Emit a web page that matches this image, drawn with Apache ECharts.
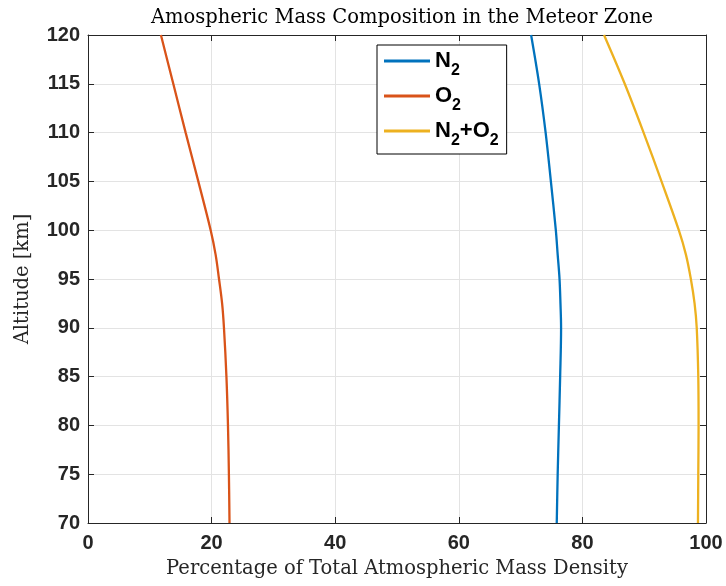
<!DOCTYPE html>
<html>
<head>
<meta charset="utf-8">
<script src="https://cdn.jsdelivr.net/npm/echarts@6/dist/echarts.min.js"></script>
<style>
  html, body { margin: 0; padding: 0; background: #fff; }
  #chart { width: 726px; height: 586px; }
</style>
</head>
<body>
<div id="chart"></div>
<script>
// Altitude samples [km] and mass-density percentages per species
const altitude = [70, 75, 80, 85, 90, 92.5, 95, 97.5, 100, 105, 110, 115, 120];
const n2Percent = [75.85, 76.0, 76.2, 76.4, 76.55, 76.45, 76.3, 76.0, 75.7, 74.9, 74.05, 73.0, 71.7];
const o2Percent = [22.9, 22.8, 22.65, 22.4, 22.0, 21.7, 21.2, 20.65, 19.85, 17.85, 15.8, 13.8, 11.8];
const n2o2Percent = [98.7, 98.75, 98.8, 98.75, 98.5, 98.15, 97.55, 96.75, 95.6, 92.8, 89.9, 86.85, 83.5];

const seriesNames = ['N2', 'O2', 'N2+O2'];
const xTicks = [0, 20, 40, 60, 80, 100];
const yTicks = [70, 75, 80, 85, 90, 95, 100, 105, 110, 115, 120];

const pairs = (vals) => vals.map((v, i) => [v, altitude[i]]);

const axisColor = '#262626';
const tickFont = { fontFamily: 'Liberation Sans', fontWeight: 'bold', fontSize: 20, color: axisColor };
const serifFont = 'DejaVu Serif';

const chart = echarts.init(document.getElementById('chart'), null, { renderer: 'canvas' });

function baseX(extra) {
  return Object.assign({
    type: 'value', min: xTicks[0], max: xTicks[xTicks.length - 1], interval: 20,
    axisLine: { show: true, onZero: false, lineStyle: { color: axisColor, width: 1 } },
    axisTick: { show: true, inside: true, length: 6, lineStyle: { color: axisColor } },
    splitLine: { show: false },
    axisLabel: { show: false }
  }, extra);
}
function baseY(extra) {
  return Object.assign({
    type: 'value', min: yTicks[0], max: yTicks[yTicks.length - 1], interval: 5,
    axisLine: { show: true, onZero: false, lineStyle: { color: axisColor, width: 1 } },
    axisTick: { show: true, inside: true, length: 6, lineStyle: { color: axisColor } },
    splitLine: { show: false },
    axisLabel: { show: false }
  }, extra);
}

// Chemical formulas in the legend: digits drawn as subscripts
const subRich = {
  b: { fontFamily: 'Liberation Sans', fontWeight: 'bold', fontSize: 22, color: '#000', lineHeight: 22, verticalAlign: 'top' },
  s: { fontFamily: 'Liberation Sans', fontWeight: 'bold', fontSize: 16, color: '#000', lineHeight: 16, padding: [13, 0, 0, 0], verticalAlign: 'top' }
};
function legendLabel(name) {
  return name.split(/(2)/).filter(p => p.length).map(p => p === '2' ? '{s|2}' : '{b|' + p + '}').join('');
}

const colors = ['#0072BD', '#D95319', '#EDB120'];
const values = [n2Percent, o2Percent, n2o2Percent];

chart.setOption({
  backgroundColor: '#fff',
  animation: false,
  title: {
    text: 'Amospheric Mass Composition in the Meteor Zone',
    left: 397, top: 3, textAlign: 'center',
    textStyle: { fontFamily: serifFont, fontWeight: 'normal', fontSize: 19.5, color: '#000' }
  },
  grid: { left: 88, right: 20, top: 35, bottom: 63, containLabel: false },
  legend: {
    data: seriesNames,
    orient: 'vertical',
    left: 377, top: 45,
    padding: [5, 8, 5, 7],
    itemGap: 6,
    itemWidth: 46, itemHeight: 3,
    backgroundColor: '#fff',
    borderColor: '#000', borderWidth: 1, borderRadius: 0,
    icon: 'rect',
    formatter: legendLabel,
    textStyle: { rich: subRich }
  },
  xAxis: [
    baseX({
      position: 'bottom',
      name: 'Percentage of Total Atmospheric Mass Density',
      nameLocation: 'middle', nameGap: 36,
      nameTextStyle: { fontFamily: serifFont, fontSize: 19.5, color: '#262626' },
      splitLine: { show: true, lineStyle: { color: '#e3e3e3', width: 1 } },
      axisLabel: Object.assign({ show: true, margin: 10 }, tickFont)
    }),
    baseX({ position: 'top' })
  ],
  yAxis: [
    baseY({
      position: 'left',
      name: 'Altitude [km]',
      nameLocation: 'middle', nameGap: 55, nameRotate: 90,
      nameTextStyle: { fontFamily: serifFont, fontSize: 19.5, color: '#262626' },
      splitLine: { show: true, lineStyle: { color: '#e3e3e3', width: 1 } },
      axisLabel: Object.assign({ show: true, margin: 8 }, tickFont)
    }),
    baseY({ position: 'right' })
  ],
  series: seriesNames.map((name, i) => ({
    name: name,
    type: 'line',
    xAxisIndex: 0, yAxisIndex: 0,
    data: pairs(values[i]),
    smooth: 0.35,
    showSymbol: false,
    symbol: 'none',
    lineStyle: { color: colors[i], width: 2.3 },
    itemStyle: { color: colors[i] },
    z: 3
  }))
});
</script>
</body>
</html>
